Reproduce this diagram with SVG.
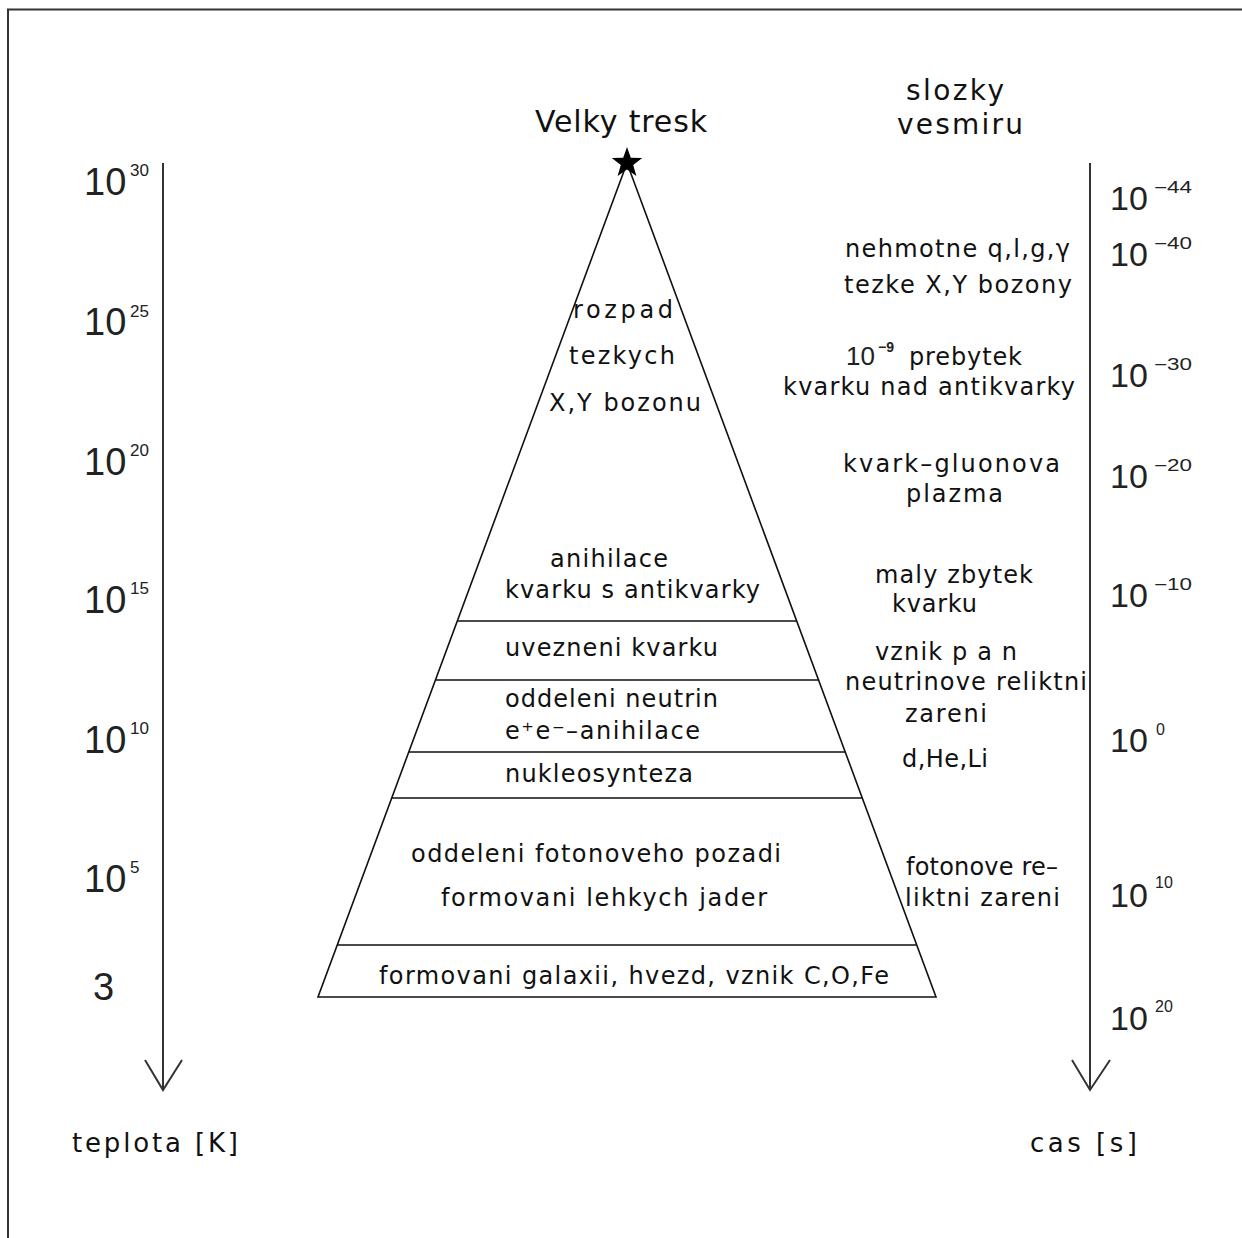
<svg xmlns="http://www.w3.org/2000/svg" width="1242" height="1238" viewBox="0 0 1242 1238">
<style>
.t{font-family:"DejaVu Sans","Liberation Sans",sans-serif;font-size:24px;fill:#111;}
.h{font-size:30px;}
.h2{font-size:28px;}
.ax{font-size:26px;}
.n{font-family:"Liberation Sans","DejaVu Sans",sans-serif;fill:#222;}
.nl{font-size:38px;}
.nr{font-size:34px;}
.sup{font-size:17px;}
.supr{font-size:16px;}
.axis{stroke:#333;stroke-width:2;fill:none;}
.edge{stroke:#111;stroke-width:1.6;fill:none;}
</style>
<rect width="1242" height="1238" fill="#fff"/>
<g id="frame"><path d="M8 1238 V9.5 H1242" stroke="#333" stroke-width="2" fill="none"/></g>
<g id="connectors">
<path class="axis" d="M163 163 V1090 M145 1060 L163 1090 L182 1060"/>
<path class="axis" d="M1090 163 V1090 M1072 1060 L1090 1090 L1110 1060"/>
</g>
<g id="pyramid">
<polygon class="edge" points="627,163 318,997 936,997"/>
<path class="edge" d="M457.5 621 H796.5 M435.5 680 H818.5 M409 752 H845 M392 798 H862 M337.5 945 H916.5"/>
<polygon points="627,147 630.8,157.7 642.2,158.1 633.2,165 636.4,175.9 627,169.5 617.6,175.9 620.8,165 611.8,158.1 623.2,157.7" fill="#000"/>
</g>
<g id="title"><text class="t h" x="535" y="132" textLength="172" lengthAdjust="spacing">Velky tresk</text></g>
<g id="components-title">
<text class="t h2" x="906" y="100" textLength="98" lengthAdjust="spacing">slozky</text>
<text class="t h2" x="897" y="134" textLength="126" lengthAdjust="spacing">vesmiru</text>
</g>
<g id="pyramid-labels">
<text class="t" x="573" y="318" textLength="100" lengthAdjust="spacing">rozpad</text>
<text class="t" x="569" y="364" textLength="106" lengthAdjust="spacing">tezkych</text>
<text class="t" x="549" y="411" textLength="152" lengthAdjust="spacing">X,Y bozonu</text>
<text class="t" x="550" y="567" textLength="118" lengthAdjust="spacing">anihilace</text>
<text class="t" x="505" y="598" textLength="255" lengthAdjust="spacing">kvarku s antikvarky</text>
<text class="t" x="505" y="656" textLength="213" lengthAdjust="spacing">uvezneni kvarku</text>
<text class="t" x="505" y="707" textLength="213" lengthAdjust="spacing">oddeleni neutrin</text>
<text class="t" x="505" y="739" textLength="195" lengthAdjust="spacing">e⁺e⁻–anihilace</text>
<text class="t" x="505" y="782" textLength="188" lengthAdjust="spacing">nukleosynteza</text>
<text class="t" x="411" y="862" textLength="370" lengthAdjust="spacing">oddeleni fotonoveho pozadi</text>
<text class="t" x="441" y="906" textLength="326" lengthAdjust="spacing">formovani lehkych jader</text>
<text class="t" x="379" y="984" textLength="510" lengthAdjust="spacing">formovani galaxii, hvezd, vznik C,O,Fe</text>
</g>
<g id="components">
<text class="t" x="845" y="257" textLength="225" lengthAdjust="spacing">nehmotne q,l,g,γ</text>
<text class="t" x="844" y="293" textLength="228" lengthAdjust="spacing">tezke X,Y bozony</text>
<text class="t" x="846" y="365"><tspan class="n" font-size="26">10</tspan><tspan class="n" x="878" y="352" font-size="14" font-weight="bold">−9</tspan><tspan x="909" y="365" textLength="113" lengthAdjust="spacing">prebytek</tspan></text>
<text class="t" x="783" y="395" textLength="292" lengthAdjust="spacing">kvarku nad antikvarky</text>
<text class="t" x="843" y="472" textLength="217" lengthAdjust="spacing">kvark–gluonova</text>
<text class="t" x="906" y="502" textLength="97" lengthAdjust="spacing">plazma</text>
<text class="t" x="875" y="583" textLength="158" lengthAdjust="spacing">maly zbytek</text>
<text class="t" x="892" y="612" textLength="85" lengthAdjust="spacing">kvarku</text>
<text class="t" x="875" y="660" textLength="142" lengthAdjust="spacing">vznik p a n</text>
<text class="t" x="845" y="690" textLength="242" lengthAdjust="spacing">neutrinove reliktni</text>
<text class="t" x="905" y="722" textLength="82" lengthAdjust="spacing">zareni</text>
<text class="t" x="902" y="767" textLength="86" lengthAdjust="spacing">d,He,Li</text>
<text class="t" x="906" y="875" textLength="152" lengthAdjust="spacing">fotonove re–</text>
<text class="t" x="905" y="906" textLength="155" lengthAdjust="spacing">liktni zareni</text>
</g>
<g id="temperature-axis">
<text class="n nl" x="84" y="195">10<tspan class="sup" x="130" y="176">30</tspan></text>
<text class="n nl" x="84" y="335">10<tspan class="sup" x="130" y="317">25</tspan></text>
<text class="n nl" x="84" y="475">10<tspan class="sup" x="130" y="456">20</tspan></text>
<text class="n nl" x="84" y="613">10<tspan class="sup" x="130" y="594">15</tspan></text>
<text class="n nl" x="84" y="753">10<tspan class="sup" x="130" y="734">10</tspan></text>
<text class="n nl" x="84" y="892">10<tspan class="sup" x="130" y="873">5</tspan></text>
<text class="n nl" x="93" y="1000" font-size="34">3</text>
<text class="t ax" x="72" y="1152" textLength="166" lengthAdjust="spacing">teplota [K]</text>
</g>
<g id="time-axis">
<text class="n nr" x="1110" y="210">10<tspan class="supr" x="1154" y="193" textLength="38" lengthAdjust="spacingAndGlyphs">−44</tspan></text>
<text class="n nr" x="1110" y="266">10<tspan class="supr" x="1154" y="249" textLength="38" lengthAdjust="spacingAndGlyphs">−40</tspan></text>
<text class="n nr" x="1110" y="387">10<tspan class="supr" x="1154" y="370" textLength="38" lengthAdjust="spacingAndGlyphs">−30</tspan></text>
<text class="n nr" x="1110" y="488">10<tspan class="supr" x="1154" y="471" textLength="38" lengthAdjust="spacingAndGlyphs">−20</tspan></text>
<text class="n nr" x="1110" y="607">10<tspan class="supr" x="1154" y="590" textLength="38" lengthAdjust="spacingAndGlyphs">−10</tspan></text>
<text class="n nr" x="1110" y="752">10<tspan class="supr" x="1156" y="735">0</tspan></text>
<text class="n nr" x="1110" y="907">10<tspan class="supr" x="1155" y="888" font-size="17">10</tspan></text>
<text class="n nr" x="1110" y="1030">10<tspan class="supr" x="1155" y="1012" font-size="17">20</tspan></text>
<text class="t ax" x="1030" y="1152" textLength="107" lengthAdjust="spacing">cas [s]</text>
</g>
</svg>
